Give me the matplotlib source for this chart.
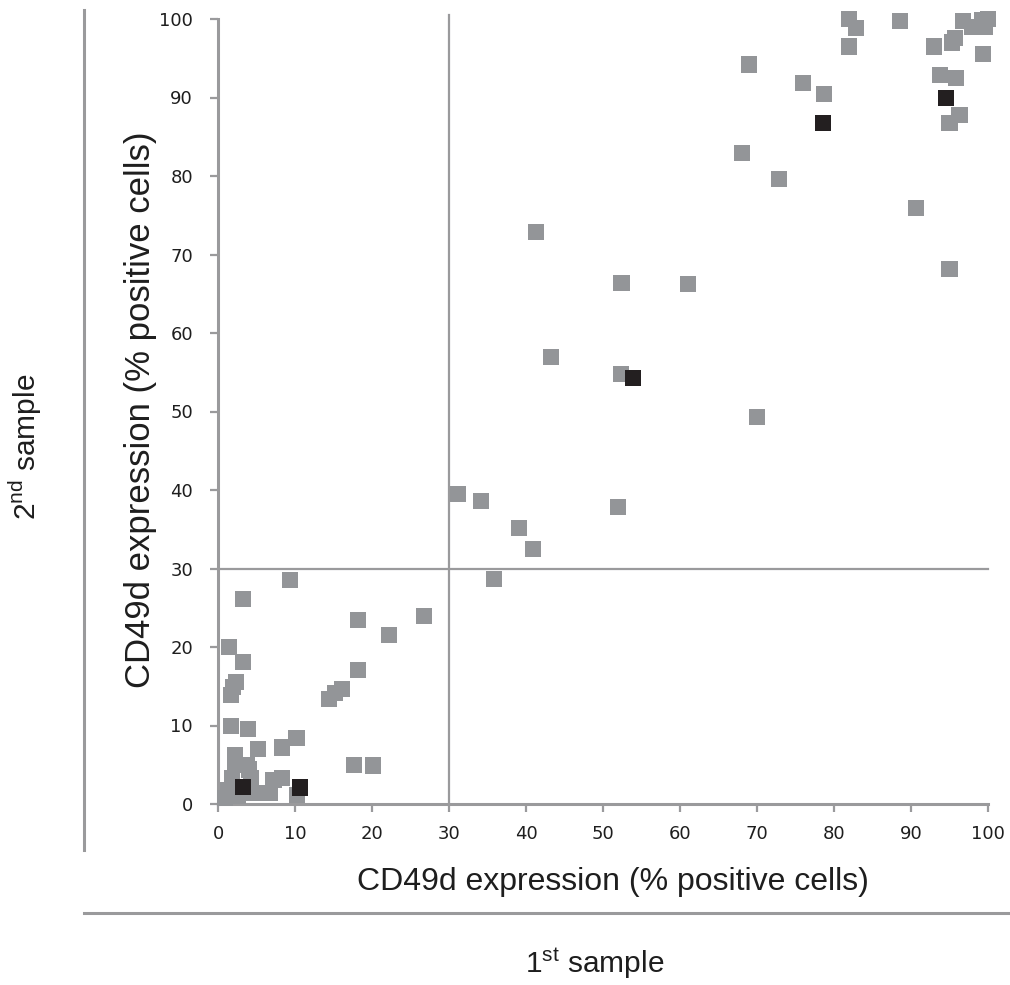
import matplotlib
matplotlib.use("Agg")
import matplotlib.pyplot as plt
from matplotlib.lines import Line2D

plt.rcParams['mathtext.fontset'] = 'custom'
plt.rcParams['mathtext.rm'] = 'Liberation Sans'

# gray squares: patients (1st sample vs 2nd sample, % CD49d positive cells)
gray_x = [82.0, 82.9, 82.0, 88.6, 76.0, 78.7, 93.0, 95.3, 95.7, 96.7, 97.9, 99.6, 100.0, 99.2,
          99.3, 93.8, 95.9, 96.3, 95.0, 69.0, 68.1, 72.9, 90.7, 95.0, 61.0,
          52.4, 43.3, 52.3, 70.0, 41.3, 31.2, 34.1, 52.0, 39.1, 40.9, 35.8,
          9.3, 3.3, 18.2, 26.8, 22.2, 1.4, 3.2, 18.2, 2.3, 2.0, 1.7, 16.1, 15.2, 14.4,
          1.7, 3.9, 10.2, 8.3, 5.2, 2.2, 2.2, 3.8, 4.0, 17.7, 20.1,
          1.8, 4.3, 7.2, 8.3, 1.3, 5.7, 6.8, 0.9, 10.3, 4.6, 2.6]
gray_y = [100.0, 98.8, 96.5, 99.8, 91.9, 90.5, 96.5, 97.0, 97.6, 99.8, 99.0, 99.0, 100.0, 99.9,
          95.5, 92.9, 92.5, 87.8, 86.7, 94.2, 82.9, 79.6, 75.9, 68.1, 66.2,
          66.4, 56.9, 54.8, 49.3, 72.9, 39.5, 38.6, 37.8, 35.2, 32.5, 28.7,
          28.5, 26.1, 23.4, 24.0, 21.5, 20.0, 18.1, 17.1, 15.5, 14.9, 13.9, 14.7, 14.1, 13.4,
          9.9, 9.6, 8.4, 7.2, 7.0, 6.2, 5.0, 5.0, 4.4, 5.0, 4.9,
          3.3, 3.3, 3.1, 3.3, 1.8, 1.4, 1.4, 0.8, 1.1, 1.4, 1.0]

# black squares
black_x = [78.6, 94.5, 53.9, 3.2, 10.6]
black_y = [86.8, 89.9, 54.3, 2.2, 2.1]

ticks = list(range(0, 101, 10))
cutoff = 30
axis_gray = '#9a9a9c'
txt = '#1e1e1e'
sans = ['Liberation Sans', 'DejaVu Sans']

fig = plt.figure(figsize=(10.1, 9.85), dpi=100)
ax = fig.add_axes([218 / 1010, 1 - 804 / 985, 770 / 1010, 785 / 985])

ax.plot([cutoff, cutoff], [0, 100.5], color=axis_gray, lw=1.6, zorder=1, clip_on=False)
ax.plot([0, 100], [cutoff, cutoff], color=axis_gray, lw=1.6, zorder=1, clip_on=False)

ax.scatter(gray_x, gray_y, marker='s', s=135, color='#939598', edgecolors='none',
           zorder=3, clip_on=False)
ax.scatter(black_x, black_y, marker='s', s=135, color='#231f20', edgecolors='none',
           zorder=4, clip_on=False)

ax.set_xlim(0, 100)
ax.set_ylim(0, 100)
ax.set_xticks(ticks)
ax.set_yticks(ticks)
for side in ['top', 'right']:
    ax.spines[side].set_visible(False)
for side in ['left', 'bottom']:
    ax.spines[side].set_color(axis_gray)
    ax.spines[side].set_linewidth(2.2)
ax.tick_params(axis='both', colors=axis_gray, labelcolor=txt, labelsize=13,
               width=1.6, length=6, direction='out')
ax.tick_params(axis='x', pad=9)
ax.tick_params(axis='y', pad=12)

ax.set_xlabel('CD49d expression (% positive cells)', family=sans, fontsize=23,
              color=txt, va='center')
ax.xaxis.set_label_coords(0.513, -0.099)
ax.set_ylabel('CD49d expression (% positive cells)', family=sans, fontsize=25,
              color=txt, va='center')
ax.yaxis.set_label_coords(-0.101, 0.502)

# outer frame lines and sample labels
fig.add_artist(Line2D([84 / 1010, 84 / 1010], [1 - 850 / 985, 1 - 10 / 985],
                      color=axis_gray, lw=2.2))
fig.add_artist(Line2D([84 / 1010, 1015 / 1010], [1 - 913 / 985, 1 - 913 / 985],
                      color=axis_gray, lw=2.2))
fig.text(25 / 1010, 1 - 447 / 985, r'2$^{\mathrm{nd}}$ sample', rotation=90,
         ha='center', va='center', family=sans, fontsize=21.5, color=txt)
fig.text(595 / 1010, 1 - 963 / 985, r'1$^{\mathrm{st}}$ sample',
         ha='center', va='center', family=sans, fontsize=21.5, color=txt)

fig.savefig('out.png', dpi=100, facecolor='white')
